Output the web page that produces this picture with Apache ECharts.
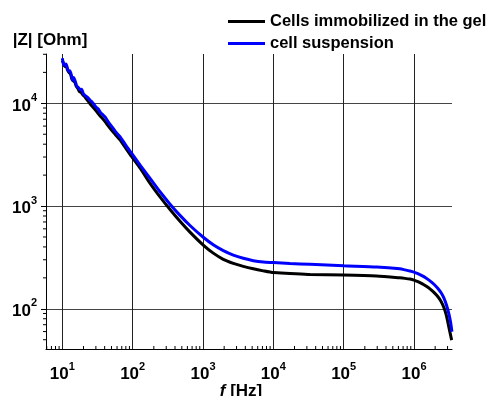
<!DOCTYPE html>
<html>
<head>
<meta charset="utf-8">
<script src="https://cdn.jsdelivr.net/npm/echarts@6/dist/echarts.min.js"></script>
<style>
  html, body { margin: 0; padding: 0; background: #fff; }
  #chart { width: 497px; height: 396px; }
</style>
</head>
<body>
<div id="chart"></div>
<script>
// |Z| against frequency, both axes log
const seriesNames = ["Cells immobilized in the gel", "cell suspension"];

// black curve: cells in the gel
const freqGel = [10, 10.4, 10.8, 11.3, 11.8, 12.4, 13, 13.6, 14.3, 15, 15.8, 16.6, 17.5, 18.5, 19.5, 21, 22.5, 24, 26, 28, 30, 33, 36, 40, 44, 50, 57, 66, 80, 97,
  130, 177, 245, 340, 471, 653, 1009, 1400, 1944, 2698, 3743, 5190, 7195, 9980, 17250, 33200, 100000, 294000, 631000,
  743600, 876000, 998400, 1138000, 1297000, 1479000, 1686000, 1921000, 2190000, 2416000, 2666000, 2892000, 3088000, 3265000, 3428000];
const zGel = [26000, 24500, 22800, 23200, 21300, 20000, 19500, 17400, 16500, 16200, 14600, 14000, 13000, 12800, 12100, 11500, 10800, 10200, 9500, 9000, 8500, 7800, 7300, 6700, 6150, 5500, 4950, 4400, 3650, 3020,
  2300, 1663, 1228, 925, 711, 558, 417, 348, 303, 277, 259, 245, 234, 225, 221, 216, 213, 208, 200,
  197.7, 194.6, 190.3, 183.6, 175.6, 166.3, 156.2, 144.4, 130.9, 118.3, 102.7, 85.9, 69.4, 58.0, 49.6];

// blue curve: cell suspension
const freqSusp = [10, 10.4, 10.8, 11.3, 11.8, 12.3, 12.8, 13.4, 14, 14.5, 15.2, 16, 17, 17.9, 18.8, 20, 21.5, 23, 24.8, 26.5, 28, 30, 32, 35, 38, 41, 45, 50, 57, 66, 80, 97,
  130, 177, 245, 340, 471, 653, 1009, 1400, 1944, 2698, 3743, 5190, 7195, 9980, 17250, 33200, 100000, 294000, 631000,
  743600, 876000, 998400, 1138000, 1297000, 1479000, 1686000, 1921000, 2190000, 2416000, 2666000, 2912000, 3140000, 3319000, 3463000];
const zSusp = [27400, 24000, 23500, 24200, 22000, 20500, 20800, 19000, 16800, 17800, 16500, 14800, 14200, 13600, 13700, 12300, 11800, 11400, 10700, 10300, 9800, 9200, 8900, 8100, 7700, 7300, 6600, 6000, 5300, 4730, 3900, 3250,
  2460, 1862, 1377, 1043, 811, 647, 497, 420, 368, 333, 310, 294, 285, 282, 276, 271, 262, 255, 245,
  239.3, 233.4, 227.8, 219.7, 210.1, 199.5, 187.0, 173.2, 157.6, 143.8, 127.1, 107.5, 88.8, 73.4, 59.7];

const xRange = [5.86, 3.47e6];
const yRange = [40.6, 30200];
const decades = [1, 10, 100, 1000, 10000, 100000, 1000000];
const minorSteps = [2, 3, 4, 5, 6, 7, 8, 9];

const FONT = "Liberation Sans";

function minorValues(range) {
  const out = [];
  decades.forEach(d => minorSteps.forEach(s => {
    const v = d * s;
    if (v > range[0] && v < range[1]) out.push(v);
  }));
  return out;
}

const powerLabel = v => "{b|10}{s|" + Math.round(Math.log10(v)) + "}";
const powerRich = {
  b: { fontFamily: FONT, fontSize: 17, fontWeight: "bold", color: "#000", lineHeight: 22, verticalAlign: "bottom" },
  s: { fontFamily: FONT, fontSize: 11, fontWeight: "bold", color: "#000", lineHeight: 10, verticalAlign: "top" }
};

const chart = echarts.init(document.getElementById("chart"), null, { renderer: "canvas" });

chart.setOption({
  animation: false,
  backgroundColor: "#fff",
  grid: { left: 46, right: 45, top: 54, bottom: 47, outerBoundsMode: "none", containLabel: false },
  legend: {
    data: seriesNames,
    orient: "vertical",
    left: 228,
    top: 13,
    padding: 0,
    itemGap: 5,
    itemWidth: 37,
    itemHeight: 3,
    icon: "rect",
    textStyle: { fontFamily: FONT, fontSize: 16.5, fontWeight: "bold", color: "#000" }
  },
  xAxis: {
    type: "log",
    min: xRange[0],
    max: xRange[1],
    name: "{i|f} [Hz]",
    nameLocation: "middle",
    nameGap: 34,
    nameMoveOverlap: false,
    nameTextStyle: {
      fontFamily: FONT, fontSize: 17, fontWeight: "bold", color: "#000", padding: [0, 16, 0, 0],
      rich: { i: { fontFamily: FONT, fontSize: 17, fontWeight: "bold", fontStyle: "italic", color: "#000" } }
    },
    axisLine: { lineStyle: { color: "#000", width: 1 } },
    axisTick: { show: false },
    axisLabel: { formatter: powerLabel, rich: powerRich, margin: 12, showMinLabel: false, showMaxLabel: false },
    splitLine: { show: true, showMinLine: false, showMaxLine: false, lineStyle: { color: "#222", width: 1 } }
  },
  yAxis: {
    type: "log",
    min: yRange[0],
    max: yRange[1],
    name: "|Z| [Ohm]",
    nameLocation: "end",
    nameGap: 5,
    nameTextStyle: { fontFamily: FONT, fontSize: 17, fontWeight: "bold", color: "#000", padding: [0, 0, 0, 8] },
    axisLine: { show: true, lineStyle: { color: "#000", width: 1 } },
    axisTick: { show: true, inside: false, length: 5, lineStyle: { color: "#000" } },
    axisLabel: { formatter: powerLabel, rich: powerRich, margin: 9, showMinLabel: false, showMaxLabel: false },
    splitLine: { show: true, showMinLine: false, showMaxLine: false, lineStyle: { color: "#444", width: 1 } }
  },
  series: [
    {
      name: seriesNames[0],
      type: "line",
      data: freqGel.map((f, i) => [f, zGel[i]]),
      symbol: "none",
      smooth: 0.2,
      lineStyle: { color: "#000", width: 3 },
      itemStyle: { color: "#000" },
      z: 3
    },
    {
      name: seriesNames[1],
      type: "line",
      data: freqSusp.map((f, i) => [f, zSusp[i]]),
      symbol: "none",
      smooth: 0.2,
      lineStyle: { color: "#0000ff", width: 3 },
      itemStyle: { color: "#0000ff" },
      z: 4
    },
    {
      // minor ticks on the frequency axis, pointing inward
      type: "custom",
      silent: true,
      clip: false,
      data: minorValues(xRange).map(v => [v, yRange[0]]),
      renderItem: (params, api) => {
        const p = api.coord([api.value(0), api.value(1)]);
        return { type: "line", shape: { x1: p[0], y1: p[1], x2: p[0], y2: p[1] - 3 }, style: { stroke: "#000", lineWidth: 1 } };
      },
      z: 5
    },
    {
      // minor ticks on the |Z| axis, pointing outward
      type: "custom",
      silent: true,
      clip: false,
      data: minorValues(yRange).map(v => [xRange[0], v]),
      renderItem: (params, api) => {
        const p = api.coord([api.value(0), api.value(1)]);
        return { type: "line", shape: { x1: p[0], y1: p[1], x2: p[0] - 3, y2: p[1] }, style: { stroke: "#000", lineWidth: 1 } };
      },
      z: 5
    }
  ]
});
</script>
</body>
</html>
